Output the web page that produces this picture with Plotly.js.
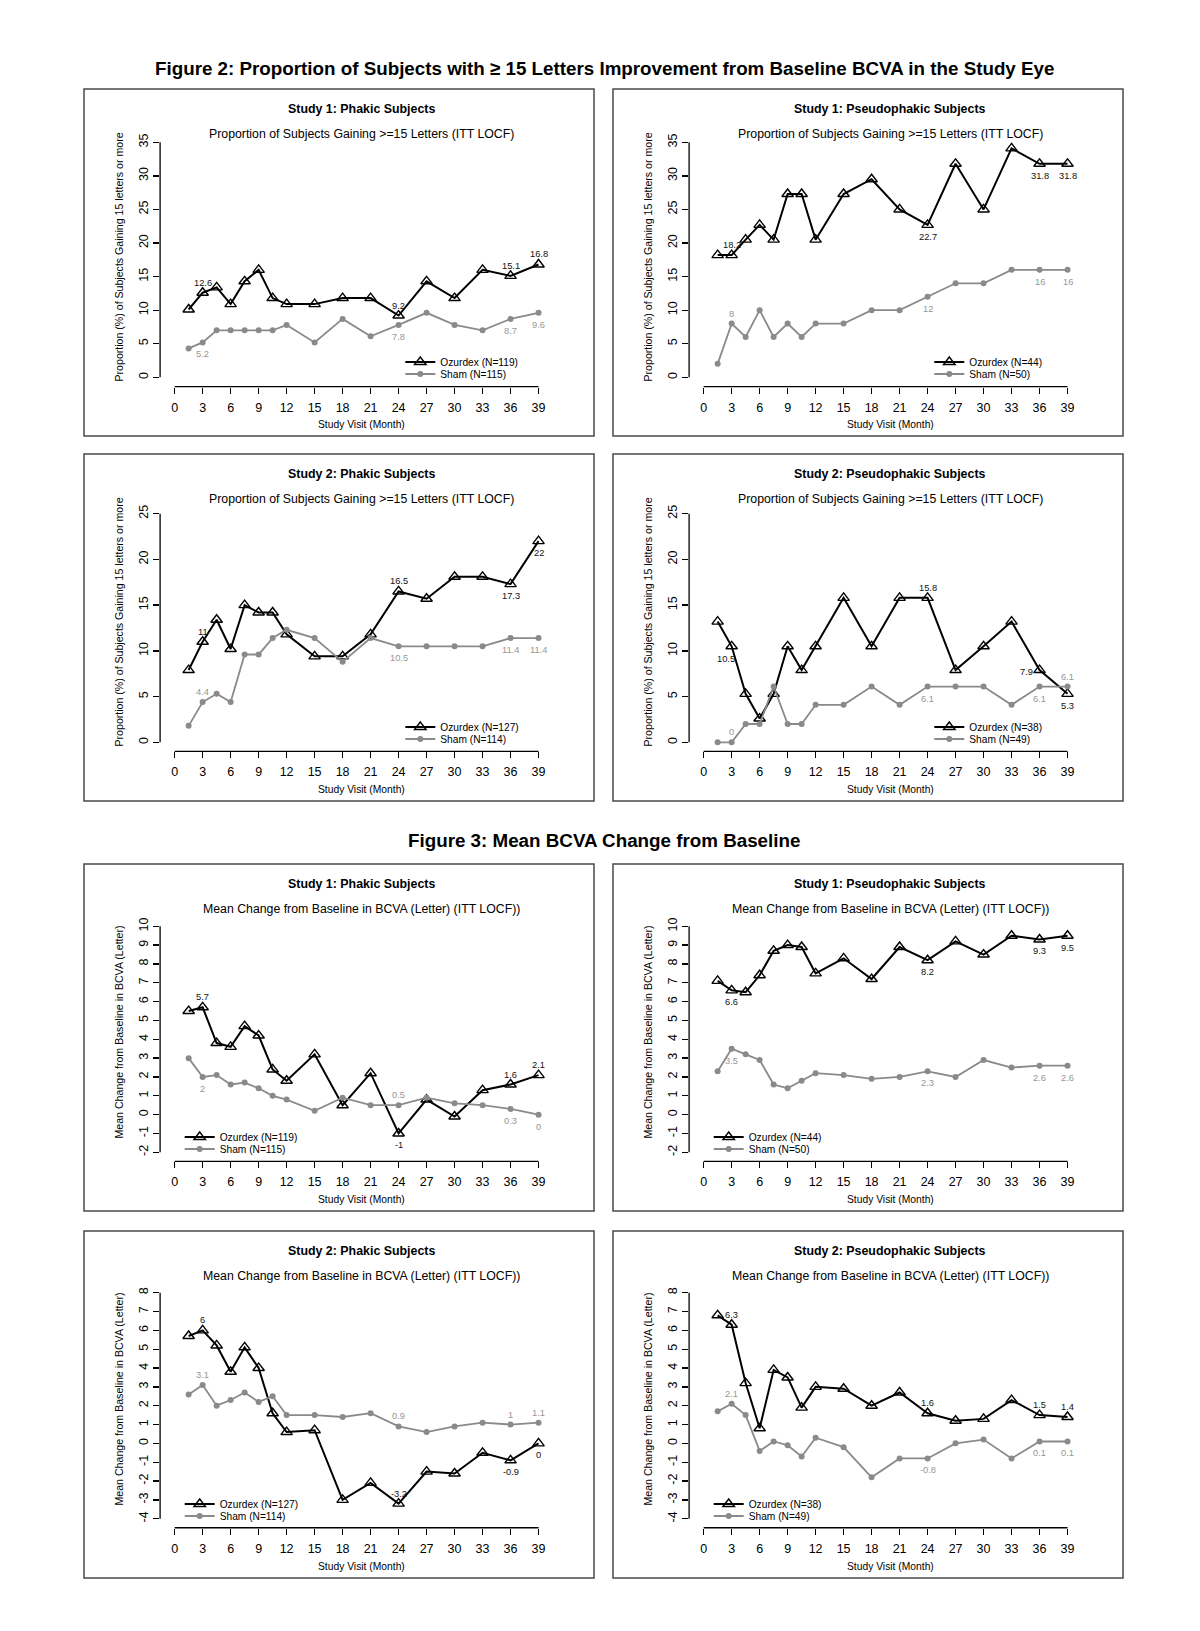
<!DOCTYPE html>
<html><head><meta charset="utf-8">
<script src="https://cdn.plot.ly/plotly-3.0.1.min.js"></script>
<style>body{margin:0;background:#fff}#chart{width:1200px;height:1631px}</style>
</head><body><div id="chart"></div>
<script>
// ---------------- data ----------------
const months = [1.5,3,4.5,6,7.5,9,10.5,12,15,18,21,24,27,30,33,36,39];
const monthTicks = [0,3,6,9,12,15,18,21,24,27,30,33,36,39];

// Figure 2: proportion (%) gaining >= 15 letters
const s1PhakicPropOzurdex = [10.1,12.6,13.4,10.9,14.3,16.0,11.8,10.9,10.9,11.8,11.8,9.2,14.3,11.8,16.0,15.1,16.8];
const s1PhakicPropSham    = [4.3,5.2,7.0,7.0,7.0,7.0,7.0,7.8,5.2,8.7,6.1,7.8,9.6,7.8,7.0,8.7,9.6];
const s1PseudoPropOzurdex = [18.2,18.2,20.5,22.7,20.5,27.3,27.3,20.5,27.3,29.5,25.0,22.7,31.8,25.0,34.1,31.8,31.8];
const s1PseudoPropSham    = [2,8,6,10,6,8,6,8,8,10,10,12,14,14,16,16,16];
const s2PhakicPropOzurdex = [7.9,11.0,13.4,10.2,15.0,14.2,14.2,11.8,9.4,9.4,11.8,16.5,15.7,18.1,18.1,17.3,22.0];
const s2PhakicPropSham    = [1.8,4.4,5.3,4.4,9.6,9.6,11.4,12.3,11.4,8.8,11.4,10.5,10.5,10.5,10.5,11.4,11.4];
const s2PseudoPropOzurdex = [13.2,10.5,5.3,2.6,5.3,10.5,7.9,10.5,15.8,10.5,15.8,15.8,7.9,10.5,13.2,7.9,5.3];
const s2PseudoPropSham    = [0,0,2.0,2.0,6.1,2.0,2.0,4.1,4.1,6.1,4.1,6.1,6.1,6.1,4.1,6.1,6.1];

// Figure 3: mean BCVA change from baseline (letters)
const s1PhakicMeanOzurdex = [5.5,5.7,3.8,3.6,4.7,4.2,2.4,1.8,3.2,0.5,2.2,-1.0,0.8,-0.1,1.3,1.6,2.1];
const s1PhakicMeanSham    = [3.0,2.0,2.1,1.6,1.7,1.4,1.0,0.8,0.2,0.9,0.5,0.5,0.9,0.6,0.5,0.3,0.0];
const s1PseudoMeanOzurdex = [7.1,6.6,6.5,7.4,8.7,9.0,8.9,7.5,8.3,7.2,8.9,8.2,9.2,8.5,9.5,9.3,9.5];
const s1PseudoMeanSham    = [2.3,3.5,3.2,2.9,1.6,1.4,1.8,2.2,2.1,1.9,2.0,2.3,2.0,2.9,2.5,2.6,2.6];
const s2PhakicMeanOzurdex = [5.7,6.0,5.2,3.8,5.1,4.0,1.6,0.6,0.7,-3.0,-2.1,-3.2,-1.5,-1.6,-0.5,-0.9,0.0];
const s2PhakicMeanSham    = [2.6,3.1,2.0,2.3,2.7,2.2,2.5,1.5,1.5,1.4,1.6,0.9,0.6,0.9,1.1,1.0,1.1];
const s2PseudoMeanOzurdex = [6.8,6.3,3.2,0.8,3.9,3.5,1.9,3.0,2.9,2.0,2.7,1.6,1.2,1.3,2.3,1.5,1.4];
const s2PseudoMeanSham    = [1.7,2.1,1.5,-0.4,0.1,-0.1,-0.7,0.3,-0.2,-1.8,-0.8,-0.8,0.0,0.2,-0.8,0.1,0.1];

// text
const figureTitles = ['Figure 2: Proportion of Subjects with \u2265 15 Letters Improvement from Baseline BCVA in the Study Eye',
                      'Figure 3: Mean BCVA Change from Baseline'];
const panelTitles = ['Study 1: Phakic Subjects','Study 1: Pseudophakic Subjects','Study 2: Phakic Subjects','Study 2: Pseudophakic Subjects',
                     'Study 1: Phakic Subjects','Study 1: Pseudophakic Subjects','Study 2: Phakic Subjects','Study 2: Pseudophakic Subjects'];
const subtitles = ['Proportion of Subjects Gaining >=15 Letters (ITT LOCF)','Mean Change from Baseline in BCVA (Letter) (ITT LOCF))'];
const yTitles = ['Proportion (%) of Subjects Gaining 15 letters or more','Mean Change from Baseline in BCVA (Letter)'];
const xTitle = 'Study Visit (Month)';
const ozurdexNames = ['Ozurdex (N=119)','Ozurdex (N=44)','Ozurdex (N=127)','Ozurdex (N=38)','Ozurdex (N=119)','Ozurdex (N=44)','Ozurdex (N=127)','Ozurdex (N=38)'];
const shamNames = ['Sham (N=115)','Sham (N=50)','Sham (N=114)','Sham (N=49)','Sham (N=115)','Sham (N=50)','Sham (N=114)','Sham (N=49)'];

// ---------------- layout config ----------------
const W = 1200, H = 1631;
const FONT = 'Liberation Sans, Arial, Helvetica, sans-serif';
const GRAY = '#8a8a8a', LGRAY = '#969696';
const px = x => x / W, py = y => 1 - y / H;

const panels = [
  {oz:s1PhakicPropOzurdex, sh:s1PhakicPropSham, fig:0, yr:[0,35], dy:5, bx:84,  by:89,  pt:53.3, pb:288.3, leg:'r',
   ozL:[[3,'t'],[24,'t'],[36,'t'],[39,'t']], shL:[[3,'b'],[24,'b'],[36,'b'],[39,'b']]},
  {oz:s1PseudoPropOzurdex, sh:s1PseudoPropSham, fig:0, yr:[0,35], dy:5, bx:613, by:89,  pt:53.3, pb:288.3, leg:'r',
   ozL:[[3,'t'],[24,'b'],[36,'b'],[39,'b']], shL:[[3,'t'],[24,'b'],[36,'b'],[39,'b']]},
  {oz:s2PhakicPropOzurdex, sh:s2PhakicPropSham, fig:0, yr:[0,25], dy:5, bx:84,  by:454, pt:59.7, pb:288.3, leg:'r',
   ozL:[[3,'t'],[24,'t'],[36,'b'],[39,'b']], shL:[[3,'t'],[24,'b'],[36,'b'],[39,'b']]},
  {oz:s2PseudoPropOzurdex, sh:s2PseudoPropSham, fig:0, yr:[0,25], dy:5, bx:613, by:454, pt:59.7, pb:288.3, leg:'r',
   ozL:[[3,'bl'],[24,'t'],[36,'l'],[39,'b']], shL:[[3,'t'],[24,'b'],[36,'b'],[39,'t']]},
  {oz:s1PhakicMeanOzurdex, sh:s1PhakicMeanSham, fig:1, yr:[-2,10], dy:1, bx:84,  by:864, pt:62.3, pb:288.3, leg:'l',
   ozL:[[3,'t'],[24,'b'],[36,'t'],[39,'t']], shL:[[3,'b'],[24,'t'],[36,'b'],[39,'b']]},
  {oz:s1PseudoMeanOzurdex, sh:s1PseudoMeanSham, fig:1, yr:[-2,10], dy:1, bx:613, by:864, pt:62.3, pb:288.3, leg:'l',
   ozL:[[3,'b'],[24,'b'],[36,'b'],[39,'b']], shL:[[3,'b'],[24,'b'],[36,'b'],[39,'b']]},
  {oz:s2PhakicMeanOzurdex, sh:s2PhakicMeanSham, fig:1, yr:[-4,8], dy:1, bx:84,  by:1231, pt:61.7, pb:287.7, leg:'l',
   ozL:[[3,'t'],[24,'t'],[36,'b'],[39,'b']], shL:[[3,'t'],[24,'t'],[36,'t'],[39,'t']]},
  {oz:s2PseudoMeanOzurdex, sh:s2PseudoMeanSham, fig:1, yr:[-4,8], dy:1, bx:613, by:1231, pt:61.7, pb:287.7, leg:'l',
   ozL:[[3,'t'],[24,'t'],[36,'t'],[39,'t']], shL:[[3,'t'],[24,'b'],[36,'b'],[39,'b']]}
];

const shifts = {t:[0,10], b:[0,-12], l:[-13,-2], bl:[-6,-13]};

const data = [];
const layout = {
  width: W, height: H, margin:{l:0,r:0,t:0,b:0},
  paper_bgcolor:'#fff', plot_bgcolor:'rgba(0,0,0,0)',
  font:{family:FONT, color:'#000'},
  showlegend:true, shapes:[], annotations:[]
};

function txt(x, y, text, size, extra) {
  layout.annotations.push(Object.assign({xref:'paper', yref:'paper', x:x, y:y, text:text, showarrow:false,
    xanchor:'center', yanchor:'middle', font:{family:FONT, size:size, color:'#000'}}, extra || {}));
}

txt(px(604), py(68.6), '<b>' + figureTitles[0] + '</b>', 18.8);
txt(px(603.6), py(841), '<b>' + figureTitles[1] + '</b>', 18.8);

let legCount = 0;
function newLegend(x, y) {
  legCount += 1;
  const name = legCount === 1 ? 'legend' : 'legend' + legCount;
  layout[name] = {x:px(x), y:py(y), xanchor:'left', yanchor:'middle',
    bgcolor:'rgba(0,0,0,0)', borderwidth:0, font:{family:FONT, size:10.2, color:'#000'},
    tracegroupgap:0};
  return name;
}

panels.forEach((p, i) => {
  const s = i === 0 ? '' : String(i + 1);
  const xa = 'x' + s, ya = 'y' + s;
  const lo = p.yr[0], hi = p.yr[1];
  const ppu = (p.pb - p.pt) / (hi - lo);
  const pad = 0.04 * (hi - lo);
  const top = p.by + p.pt - pad * ppu, bot = p.by + p.pb + pad * ppu;

  layout['xaxis' + s] = {
    domain:[px(p.bx + 76.1), px(p.bx + 469.1)], anchor:ya, range:[-1.56, 40.56],
    showline:false, zeroline:false, showgrid:false,
    ticks:'outside', ticklen:6, tickwidth:1.3, tickcolor:'#000', ticklabelstandoff:3,
    tickmode:'array', tickvals:monthTicks, tickfont:{family:FONT, size:12.5, color:'#000'},
    fixedrange:true
  };
  const yt = [];
  for (let v = lo; v <= hi + 1e-9; v += p.dy) yt.push(v);
  layout['yaxis' + s] = {
    domain:[py(bot), py(top)], anchor:xa, range:[lo - pad, hi + pad],
    showline:false, zeroline:false, showgrid:false,
    ticks:'outside', ticklen:6, tickwidth:1.3, tickcolor:'#000',
    tickmode:'array', tickvals:yt, ticktext:yt.map(v => String(v)), tickangle:-90,
    tickfont:{family:FONT, size:12.5, color:'#000'},
    fixedrange:true
  };

  // axis lines spanning the tick range only (R style)
  layout.shapes.push({type:'line', xref:xa, yref:ya + ' domain', x0:0, x1:39, y0:0, y1:0, line:{color:'#000', width:1.3}});
  layout.shapes.push({type:'line', xref:xa + ' domain', yref:ya, x0:0, x1:0, y0:lo, y1:hi, line:{color:'#000', width:1.3}});
  // panel frame
  layout.shapes.push({type:'rect', xref:'paper', yref:'paper', x0:px(p.bx), x1:px(p.bx + 510), y0:py(p.by + 347), y1:py(p.by),
    line:{color:'#4a4a4a', width:1.5}});

  txt(px(p.bx + 277.3), py(p.by + 19.7), '<b>' + panelTitles[i] + '</b>', 12.4);
  txt(px(p.bx + 277.8), py(p.by + 44.9), subtitles[p.fig], 12.3);
  txt(px(p.bx + 277.3), py(p.by + 335.7), xTitle, 10.3);
  txt(px(p.bx + 34.7), py(p.by + 167.8), yTitles[p.fig], 10.6, {textangle:-90});

  const legX = p.leg === 'r' ? p.bx + 316.3 : p.bx + 95.7;
  const legOz = newLegend(legX, p.by + 273);
  const legSh = newLegend(legX, p.by + 285);

  data.push({x:months, y:p.oz, xaxis:xa, yaxis:ya, type:'scatter', mode:'lines+markers', name:ozurdexNames[i],
    legend:legOz, cliponaxis:false,
    line:{color:'#000', width:2}, marker:{symbol:'triangle-up-open', size:10, color:'#000', line:{width:1.4, color:'#000'}}});
  data.push({x:months, y:p.sh, xaxis:xa, yaxis:ya, type:'scatter', mode:'lines+markers', name:shamNames[i],
    legend:legSh, cliponaxis:false,
    line:{color:GRAY, width:1.8}, marker:{symbol:'circle', size:6, color:GRAY}});

  const addLabels = (list, arr, color) => list.forEach(([m, pos]) => {
    const k = months.indexOf(m);
    const sh = shifts[pos];
    layout.annotations.push({xref:xa, yref:ya, x:m, y:arr[k], text:String(arr[k]), showarrow:false,
      xanchor:'center', yanchor:'middle', xshift:sh[0], yshift:sh[1],
      font:{family:FONT, size:9.3, color:color}});
  });
  addLabels(p.ozL, p.oz, '#111');
  addLabels(p.shL, p.sh, LGRAY);
});

Plotly.newPlot('chart', data, layout, {staticPlot:true, displayModeBar:false});
</script>
</body></html>
